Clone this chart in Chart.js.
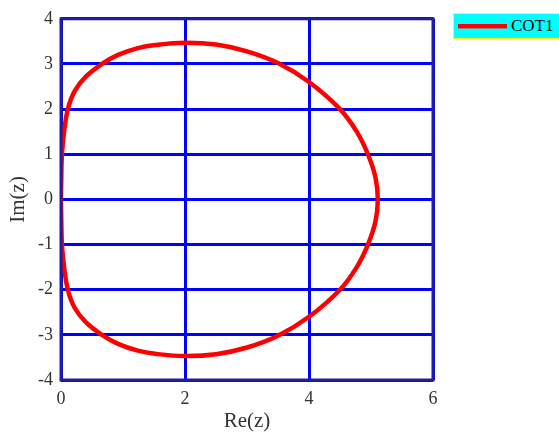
<!DOCTYPE html>
<html>
<head>
<meta charset="utf-8">
<script src="https://cdn.jsdelivr.net/npm/chart.js@4/dist/chart.umd.min.js"></script>
<style>
  body { margin: 0; background: #fff; }
  #wrap { position: relative; width: 559px; height: 434px; }
  #legendBox {
    position: absolute; left: 453px; top: 13px; width: 106px; height: 24px;
    background: #00ffff; border: 1px solid #ffff00; border-right: none;
    font-family: "Liberation Serif", serif; font-size: 17px; color: #000;
  }
  #legendBox .swatch {
    position: absolute; left: 4px; top: 10px; width: 49px; height: 4px;
    background: #ff0000; box-shadow: 0 1px 0 #888;
  }
  #legendBox .txt { position: absolute; left: 57px; top: 2px; }
</style>
</head>
<body>
<div id="wrap">
  <canvas id="regionChart" width="559" height="434"></canvas>
  <div id="legendBox"><div class="swatch"></div><div class="txt">COT1</div></div>
</div>
<script>
// boundary of the region, Re(z) / Im(z), traced counter-clockwise from z = 0
const reZ = [0.0, 0.005, 0.015, 0.05, 0.11, 0.22, 0.4, 0.66, 0.92, 1.24, 1.52, 2.0, 2.5, 3.0, 3.5, 4.0, 4.5, 4.77, 4.95, 5.07, 5.11,
             5.07, 4.95, 4.77, 4.5, 4.0, 3.5, 3.0, 2.5, 2.0, 1.52, 1.24, 0.92, 0.66, 0.4, 0.22, 0.11, 0.05, 0.015, 0.005, 0.0];
const imZ = [0.0, 0.5, 1.0, 1.5, 2.0, 2.4, 2.72, 3.0, 3.2, 3.35, 3.42, 3.47, 3.43, 3.28, 3.02, 2.6, 2.0, 1.5, 1.0, 0.5, 0.0,
             -0.5, -1.0, -1.5, -2.0, -2.6, -3.02, -3.28, -3.43, -3.47, -3.42, -3.35, -3.2, -3.0, -2.72, -2.4, -2.0, -1.5, -1.0, -0.5, 0.0];
const xTicks = [0, 2, 4, 6];
const yTicks = [-4, -3, -2, -1, 0, 1, 2, 3, 4];

const points = reZ.map((x, i) => ({x: x, y: imZ[i]}));
const tickFont = {family: "Liberation Serif", size: 18};
const titleFont = {family: "Liberation Serif", size: 21};

const frame = {
    id: 'frame',
    afterDraw(chart) {
        const {ctx, chartArea: a} = chart;
        ctx.save();
        ctx.strokeStyle = '#1e1ea0';
        ctx.lineWidth = 3;
        ctx.strokeRect(a.left, a.top, a.right - a.left, a.bottom - a.top);
        ctx.restore();
    }
};

new Chart(document.getElementById('regionChart'), {
    type: 'scatter',
    data: {
        datasets: [{
            label: 'COT1',
            data: points,
            showLine: true,
            borderColor: '#ff0000',
            borderWidth: 4.5,
            pointRadius: 0,
            tension: 0.4,
            fill: false
        }]
    },
    options: {
        responsive: false,
        animation: false,
        layout: {padding: {left: 0, top: 14, right: 126, bottom: 0}},
        plugins: {legend: {display: false}, tooltip: {enabled: false}},
        scales: {
            x: {
                type: 'linear', min: 0, max: 6,
                afterBuildTicks: s => { s.ticks = xTicks.map(v => ({value: v})); },
                afterFit: s => { s.height = 54; },
                grid: {color: '#0000ff', lineWidth: 3, drawTicks: false},
                border: {display: false},
                ticks: {color: '#333', font: tickFont, padding: 8, maxRotation: 0},
                title: {display: true, text: 'Re(z)', color: '#333', font: titleFont, padding: {top: 0, bottom: 0}}
            },
            y: {
                type: 'linear', min: -4, max: 4,
                afterBuildTicks: s => { s.ticks = yTicks.map(v => ({value: v})); },
                afterFit: s => { s.width = 61; },
                grid: {color: '#0000ff', lineWidth: 3, drawTicks: false},
                border: {display: false},
                ticks: {color: '#333', font: tickFont, padding: 8},
                title: {display: true, text: 'Im(z)', color: '#333', font: titleFont, padding: {top: 6, bottom: 0}}
            }
        }
    },
    plugins: [frame]
});
</script>
</body>
</html>
